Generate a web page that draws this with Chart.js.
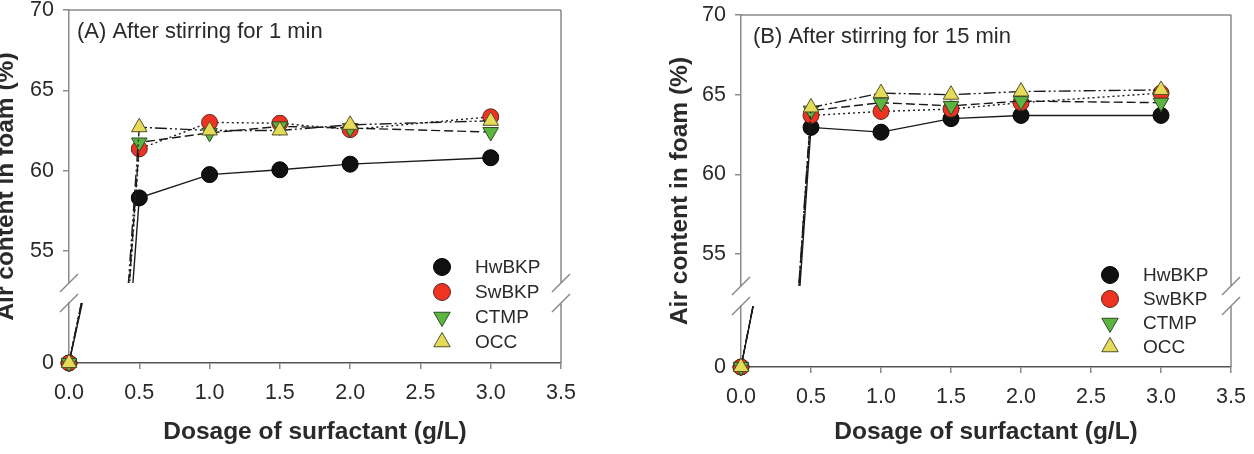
<!DOCTYPE html>
<html lang="en">
<head>
<meta charset="UTF-8">
<title>Air content in foam vs. surfactant dosage</title>
<script src="https://cdn.jsdelivr.net/npm/chart.js"></script>
<style>
    body {
        margin: 0;
        background: #fff;
        overflow: hidden;
    }
    .wrap {
        position: relative;
        width: 1254px;
        height: 454px;
    }
    .panel {
        position: absolute;
        top: 0;
        width: 627px;
        height: 454px;
    }
    #panelA { left: 0; }
    #panelB { left: 627px; }
</style>
</head>
<body>
<div class="wrap">
    <div class="panel" id="panelA"><canvas id="chartA" width="627" height="454"></canvas></div>
    <div class="panel" id="panelB"><canvas id="chartB" width="627" height="454"></canvas></div>
</div>

<script>
// ---- data ----
const dosage = [0, 0.5, 1.0, 1.5, 2.0, 3.0];
const seriesNames = ['HwBKP', 'SwBKP', 'CTMP', 'OCC'];

// (A) after stirring for 1 min
const hwA  = [0, 58.3, 59.75, 60.05, 60.4, 60.8];
const swA  = [0, 61.35, 63.0, 62.95, 62.55, 63.35];
const ctA  = [0, 61.75, 62.35, 62.75, 62.65, 62.4];
const occA = [0, 62.7, 62.5, 62.5, 62.85, 63.1];

// (B) after stirring for 15 min
const hwB  = [0, 62.95, 62.65, 63.5, 63.7, 63.7];
const swB  = [0, 63.7, 63.95, 64.1, 64.5, 65.1];
const ctB  = [0, 64.0, 64.5, 64.3, 64.6, 64.5];
const occB = [0, 64.2, 65.1, 65.0, 65.2, 65.3];

const xTicks = [0, 0.5, 1.0, 1.5, 2.0, 2.5, 3.0, 3.5];
const yTicksUpper = [55, 60, 65, 70];
const yTicksLower = [0];
const upperRange = [53, 70];
const lowerRange = [0, 11];

const panelTitles = ['(A) After stirring for 1 min', '(B) After stirring for 15 min'];
const xTitle = 'Dosage of surfactant (g/L)';
const yTitle = 'Air content in foam (%)';

// ---- styles ----
const pointFill = ['#111111', '#ee3322', '#5cb543', '#e4dc58'];
const pointEdge = ['#000000', '#5a2a1a', '#2f4a22', '#55512a'];
const pointShape = ['circle', 'circle', 'triangle', 'triangle'];
const pointRot = [0, 0, 180, 0];
const pointSize = [8, 8, 9, 9];
const lineDash = [[], [2, 3], [9, 4], [12, 3, 2, 3, 2, 3]];
const frameColor = '#8a8a8a';
const textColor = '#2a2a2a';

Chart.defaults.font.family = "'Liberation Sans', Arial, Helvetica, sans-serif";
Chart.defaults.color = textColor;

function drawMarker(ctx, shape, rot, x, y, r) {
    ctx.beginPath();
    if (shape === 'circle') {
        ctx.arc(x, y, r, 0, Math.PI * 2);
    } else {
        let a = rot * Math.PI / 180;
        for (let k = 0; k < 3; k++) {
            const px = x + Math.sin(a) * r;
            const py = y - Math.cos(a) * r;
            if (k === 0) ctx.moveTo(px, py); else ctx.lineTo(px, py);
            a += 2 * Math.PI / 3;
        }
        ctx.closePath();
    }
    ctx.fill();
    ctx.stroke();
}

// clip each dataset to its own piece of the broken y axis
const segmentClip = {
    id: 'segmentClip',
    beforeDatasetDraw(chart, args) {
        const ys = args.meta.yScale;
        const a = chart.chartArea;
        const pad = 14;
        const upper = ys.id === 'y';
        const top = upper ? ys.top - pad : ys.top;
        const bottom = upper ? ys.bottom : ys.bottom + pad;
        const ctx = chart.ctx;
        ctx.save();
        ctx.beginPath();
        ctx.rect(a.left - pad, top, a.right - a.left + 2 * pad, bottom - top);
        ctx.clip();
    },
    afterDatasetDraw(chart) {
        chart.ctx.restore();
    }
};

// frame, axis breaks, titles and legend
const decorations = {
    id: 'decorations',
    beforeDatasetsDraw(chart) {
        const {ctx, chartArea: a, scales} = chart;
        const up = scales.y, lo = scales.y0;
        ctx.save();
        ctx.strokeStyle = frameColor;
        ctx.lineWidth = 1.5;
        ctx.beginPath();
        ctx.moveTo(a.left, a.top); ctx.lineTo(a.right, a.top);
        ctx.moveTo(a.right, a.top); ctx.lineTo(a.right, up.bottom);
        ctx.moveTo(a.right, lo.top); ctx.lineTo(a.right, a.bottom);
        [a.left, a.right].forEach(x => {
            [up.bottom, lo.top].forEach(y => {
                ctx.moveTo(x - 9, y + 9);
                ctx.lineTo(x + 9, y - 9);
            });
        });
        ctx.stroke();
        ctx.restore();
    },
    afterDraw(chart, args, opts) {
        const {ctx, chartArea: a} = chart;
        ctx.save();
        ctx.fillStyle = textColor;

        // panel title
        ctx.font = "22px 'Liberation Sans', Arial, sans-serif";
        ctx.textAlign = 'left';
        ctx.textBaseline = 'middle';
        ctx.fillText(opts.title, opts.titleX, opts.titleY);

        // y title
        ctx.save();
        ctx.font = "bold 24.5px 'Liberation Sans', Arial, sans-serif";
        ctx.translate(opts.yTitleX, (a.top + a.bottom) / 2);
        ctx.rotate(-Math.PI / 2);
        ctx.textAlign = 'center';
        ctx.textBaseline = 'alphabetic';
        ctx.fillText(yTitle, 0, 0);
        ctx.restore();

        // legend
        ctx.font = "19px 'Liberation Sans', Arial, sans-serif";
        ctx.textBaseline = 'middle';
        ctx.lineWidth = 1;
        seriesNames.forEach((name, i) => {
            const y = opts.legendY + i * opts.legendStep;
            ctx.fillStyle = pointFill[i];
            ctx.strokeStyle = pointEdge[i];
            drawMarker(ctx, pointShape[i], pointRot[i], opts.legendX, y, pointSize[i] + 0.5);
            ctx.fillStyle = textColor;
            ctx.fillText(name, opts.legendTextX, y + 1);
        });
        ctx.restore();
    }
};

function makePanel(canvasId, values, g) {
    const datasets = [];
    seriesNames.forEach((name, i) => {
        ['y', 'y0'].forEach(axis => {
            datasets.push({
                label: name,
                data: dosage.map((d, k) => ({x: d, y: values[i][k]})),
                yAxisID: axis,
                borderColor: '#1a1a1a',
                borderWidth: 1.4,
                borderDash: lineDash[i],
                backgroundColor: pointFill[i],
                pointBackgroundColor: pointFill[i],
                pointBorderColor: pointEdge[i],
                pointBorderWidth: 1,
                pointStyle: pointShape[i],
                pointRotation: pointRot[i],
                pointRadius: pointSize[i],
                pointHoverRadius: pointSize[i],
                tension: 0,
                fill: false,
                clip: false,
                order: seriesNames.length - i
            });
        });
    });

    const tickFont = {size: 21.5};
    const noPad = s => {
        s.paddingTop = 0; s.paddingBottom = 0; s.paddingLeft = 0; s.paddingRight = 0;
    };

    return new Chart(document.getElementById(canvasId), {
        type: 'line',
        data: {datasets: datasets},
        options: {
            responsive: false,
            animation: false,
            events: [],
            layout: {padding: {left: 0, right: g.padRight, top: g.padTop, bottom: 0}},
            scales: {
                x: {
                    type: 'linear',
                    position: 'bottom',
                    min: 0,
                    max: 3.5,
                    afterBuildTicks: s => { s.ticks = xTicks.map(v => ({value: v})); },
                    ticks: {
                        callback: v => v.toFixed(1),
                        font: tickFont,
                        color: textColor,
                        padding: 11,
                        maxRotation: 0,
                        autoSkip: false
                    },
                    grid: {drawOnChartArea: false, tickLength: 6, color: frameColor, lineWidth: 1.5},
                    border: {color: '#555', width: 1.5},
                    title: {
                        display: true,
                        text: xTitle,
                        color: textColor,
                        font: {size: 24.5, weight: 'bold'},
                        padding: {top: 0, bottom: 7}
                    },
                    afterFit: s => { s.height = g.xAxisH; noPad(s); }
                },
                y0: {
                    type: 'linear',
                    position: 'left',
                    stack: 'left',
                    stackWeight: g.lowerH,
                    min: lowerRange[0],
                    max: lowerRange[1],
                    afterBuildTicks: s => { s.ticks = yTicksLower.map(v => ({value: v})); },
                    ticks: {font: tickFont, color: textColor, padding: 9},
                    grid: {drawOnChartArea: false, tickLength: 6, color: frameColor, lineWidth: 1.5},
                    border: {color: frameColor, width: 1.5},
                    afterFit: s => { s.width = g.left; noPad(s); }
                },
                yGap: {
                    type: 'linear',
                    position: 'left',
                    stack: 'left',
                    stackWeight: g.gapH,
                    ticks: {display: false},
                    grid: {display: false},
                    border: {display: false},
                    afterFit: s => { s.width = g.left; noPad(s); }
                },
                y: {
                    type: 'linear',
                    position: 'left',
                    stack: 'left',
                    stackWeight: g.upperH,
                    min: upperRange[0],
                    max: upperRange[1],
                    afterBuildTicks: s => { s.ticks = yTicksUpper.map(v => ({value: v})); },
                    ticks: {font: tickFont, color: textColor, padding: 9},
                    grid: {drawOnChartArea: false, tickLength: 6, color: frameColor, lineWidth: 1.5},
                    border: {color: frameColor, width: 1.5},
                    afterFit: s => { s.width = g.left; noPad(s); }
                }
            },
            plugins: {
                legend: {display: false},
                tooltip: {enabled: false},
                decorations: {
                    title: g.title,
                    titleX: g.titleX,
                    titleY: g.titleY,
                    yTitleX: g.yTitleX,
                    legendX: g.legendX,
                    legendTextX: g.legendTextX,
                    legendY: g.legendY,
                    legendStep: g.legendStep
                }
            }
        },
        plugins: [segmentClip, decorations]
    });
}

makePanel('chartA', [hwA, swA, ctA, occA], {
    left: 69, padRight: 66, padTop: 10, xAxisH: 91,
    upperH: 273, gapH: 20, lowerH: 60,
    title: panelTitles[0], titleX: 77, titleY: 32,
    yTitleX: 13,
    legendX: 442, legendTextX: 475, legendY: 267, legendStep: 25
});

makePanel('chartB', [hwB, swB, ctB, occB], {
    left: 114, padRight: 23, padTop: 15, xAxisH: 87,
    upperH: 271, gapH: 20, lowerH: 61,
    title: panelTitles[1], titleX: 126, titleY: 37,
    yTitleX: 60,
    legendX: 483, legendTextX: 516, legendY: 275, legendStep: 24
});
</script>
</body>
</html>
